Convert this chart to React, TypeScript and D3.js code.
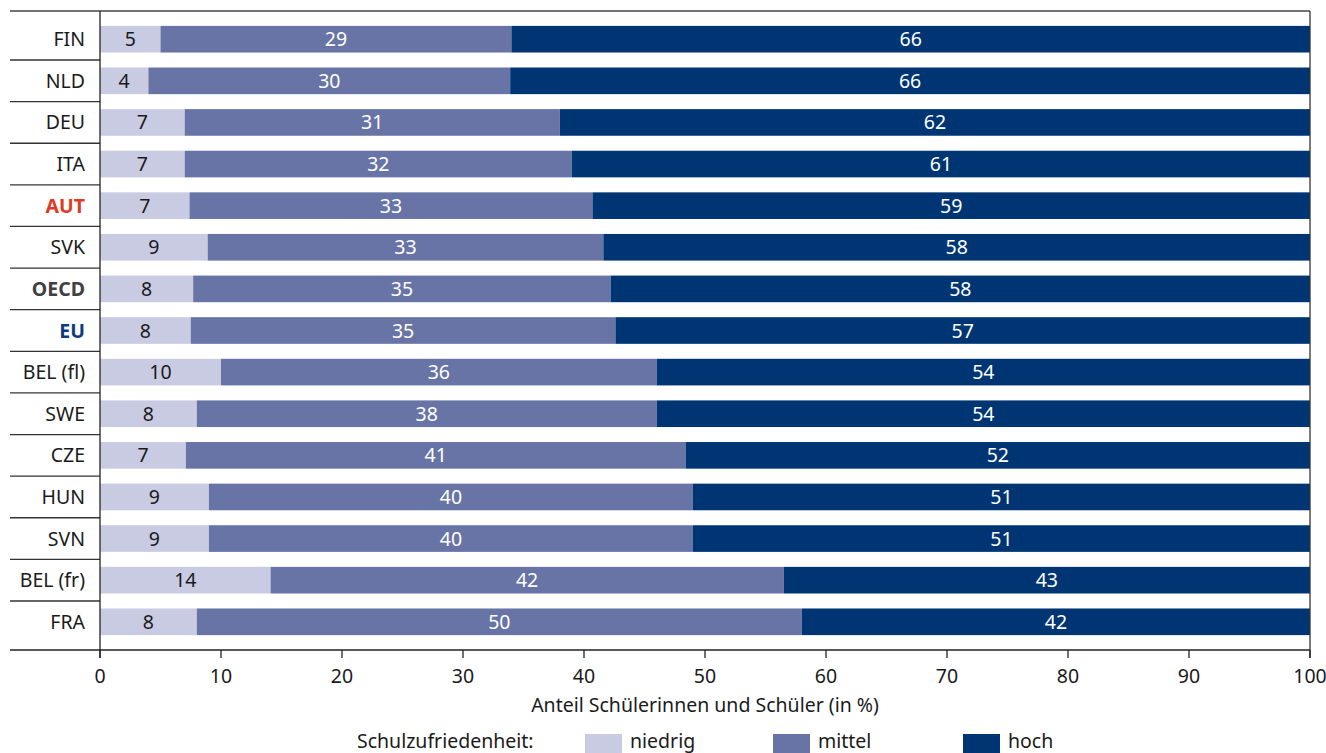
import React from "react";
import * as d3 from "d3";

const categories = ["FIN", "NLD", "DEU", "ITA", "AUT", "SVK", "OECD", "EU", "BEL (fl)", "SWE", "CZE", "HUN", "SVN", "BEL (fr)", "FRA"];
const niedrig = [5.0, 4.0, 7.0, 7.0, 7.4, 8.9, 7.7, 7.5, 10.0, 8.0, 7.1, 9.0, 9.0, 14.1, 8.0];
const mittel = [29.0, 29.9, 31.0, 32.0, 33.3, 32.7, 34.5, 35.1, 36.0, 38.0, 41.3, 40.0, 40.0, 42.4, 50.0];
const hoch = [66.0, 66.1, 62.0, 61.0, 59.3, 58.4, 57.8, 57.4, 54.0, 54.0, 51.6, 51.0, 51.0, 43.5, 42.0];
const niedrigLabels = ["5", "4", "7", "7", "7", "9", "8", "8", "10", "8", "7", "9", "9", "14", "8"];
const mittelLabels = ["29", "30", "31", "32", "33", "33", "35", "35", "36", "38", "41", "40", "40", "42", "50"];
const hochLabels = ["66", "66", "62", "61", "59", "58", "58", "57", "54", "54", "52", "51", "51", "43", "42"];
const xTicks = [0, 10, 20, 30, 40, 50, 60, 70, 80, 90, 100];
const seriesNames = ["niedrig", "mittel", "hoch"];
const legendTitle = "Schulzufriedenheit:";
const axisTitle = "Anteil Schülerinnen und Schüler (in %)";

const colors = ["#c9cbe3", "#6774a5", "#003574"];
const labelColors = ["#1a1a1a", "#ffffff", "#ffffff"];
const catStyle: Record<string, { fill: string; weight: number }> = {
  AUT: { fill: "#e23a1e", weight: 700 },
  OECD: { fill: "#404040", weight: 700 },
  EU: { fill: "#0b3a7e", weight: 700 },
};

const FONT = "'Noto Sans', sans-serif";
const FS = 19.5;

export default function App() {
  const W = 1326, H = 753;
  const x = d3.scaleLinear().domain([0, 100]).range([100, 1310]);
  const y = d3.scaleBand<string>().domain(categories).range([18.4, 642.6]).padding(0);
  const step = y.step();
  const barH = step * 0.64;
  const barOff = step * 0.18;

  const rows = categories.map((c, i) => {
    const vals = [niedrig[i], mittel[i], hoch[i]];
    const labels = [niedrigLabels[i], mittelLabels[i], hochLabels[i]];
    let acc = 0;
    return vals.map((v, k) => {
      const x0 = acc;
      acc += v;
      return { c, k, x0, x1: Math.min(acc, 100), label: labels[k] };
    });
  });

  const axisY = 650;
  const legendItems = [
    { sx: 585, tx: 630 },
    { sx: 773, tx: 818 },
    { sx: 963, tx: 1008 },
  ];

  return (
    <svg width={W} height={H} style={{ position: "absolute", left: 0, top: 0 }} fontFamily={FONT}>
      <rect width={W} height={H} fill="#ffffff" />
      {rows.map((segs, i) => (
        <g key={categories[i]}>
          {segs.map((s) => (
            <g key={s.k}>
              <rect
                x={x(s.x0)}
                y={(y(s.c) as number) + barOff}
                width={x(s.x1) - x(s.x0)}
                height={barH}
                fill={colors[s.k]}
              />
              <text
                x={(x(s.x0) + x(s.x1)) / 2}
                y={(y(s.c) as number) + step / 2}
                dy="0.36em"
                textAnchor="middle"
                fontSize={FS}
                fill={labelColors[s.k]}
              >
                {s.label}
              </text>
            </g>
          ))}
        </g>
      ))}
      {categories.map((c) => {
        const st = catStyle[c] || { fill: "#1a1a1a", weight: 400 };
        return (
          <text
            key={c}
            x={85}
            y={(y(c) as number) + step / 2}
            dy="0.36em"
            textAnchor="end"
            fontSize={FS}
            fill={st.fill}
            fontWeight={st.weight}
          >
            {c}
          </text>
        );
      })}
      {categories.slice(1).map((c) => (
        <line key={c} x1={10} x2={100} y1={y(c) as number} y2={y(c) as number} stroke="#333" strokeWidth={1.3} />
      ))}
      <line x1={10} x2={1310} y1={11} y2={11} stroke="#444" strokeWidth={1.6} />
      <line x1={1310} x2={1310} y1={11} y2={658} stroke="#333" strokeWidth={1.3} />
      <line x1={100} x2={100} y1={11} y2={658} stroke="#222" strokeWidth={1.3} />
      <line x1={10} x2={1310} y1={axisY} y2={axisY} stroke="#222" strokeWidth={1.3} />
      {xTicks.map((t) => (
        <g key={t}>
          <line x1={x(t)} x2={x(t)} y1={axisY} y2={axisY + 8} stroke="#222" strokeWidth={1.3} />
          <text x={x(t)} y={676} dy="0.36em" textAnchor="middle" fontSize={FS} fill="#1a1a1a">
            {t}
          </text>
        </g>
      ))}
      <text x={705} y={705} dy="0.36em" textAnchor="middle" fontSize={FS} fill="#1a1a1a">
        {axisTitle}
      </text>
      <text x={357} y={748} fontSize={FS} fill="#1a1a1a">
        {legendTitle}
      </text>
      {seriesNames.map((n, k) => (
        <g key={n}>
          <rect x={legendItems[k].sx} y={734} width={37} height={20} fill={colors[k]} />
          <text x={legendItems[k].tx} y={748} fontSize={FS} fill="#1a1a1a">
            {n}
          </text>
        </g>
      ))}
    </svg>
  );
}
